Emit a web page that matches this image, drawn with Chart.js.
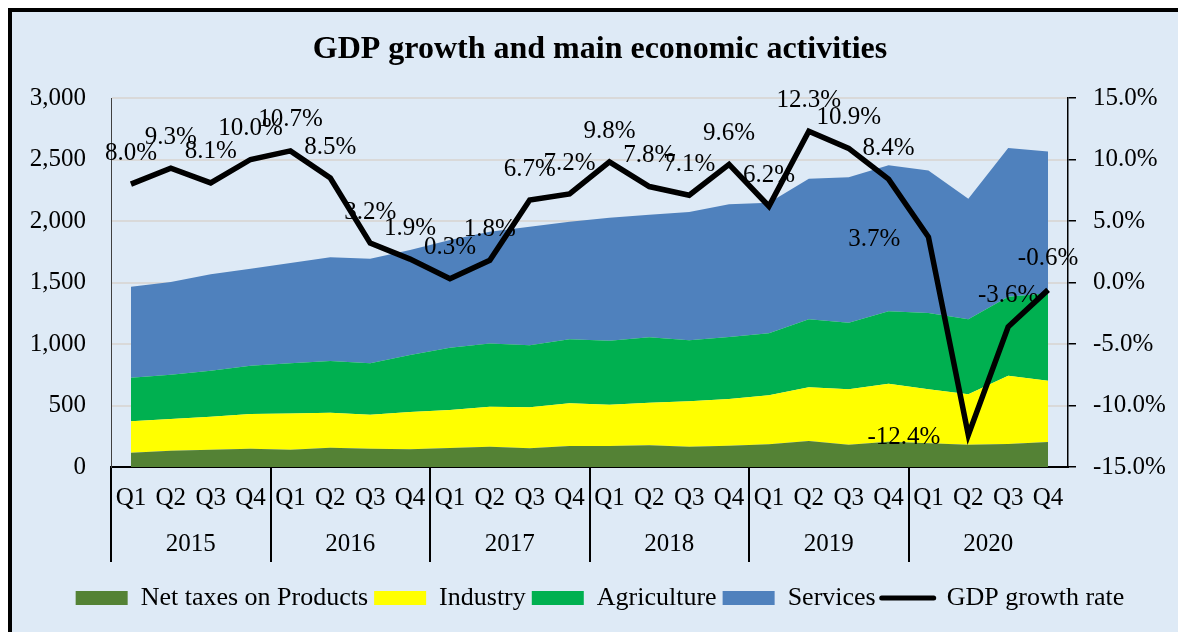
<!DOCTYPE html>
<html>
<head>
<meta charset="utf-8">
<script src="https://cdn.jsdelivr.net/npm/chart.js@4"></script>
<style>
html,body{margin:0;padding:0;background:#fff;overflow:hidden;}
#frame{position:absolute;left:8px;top:8px;width:1170px;height:624px;background:#DEEAF6;border-left:4px solid #000;border-top:4px solid #000;box-sizing:border-box;}
#c{position:absolute;left:0;top:0;}
</style>
</head>
<body>
<div id="frame"></div>
<canvas id="c" width="1178" height="632"></canvas>
<script>
const quarters = ['Q1','Q2','Q3','Q4','Q1','Q2','Q3','Q4','Q1','Q2','Q3','Q4','Q1','Q2','Q3','Q4','Q1','Q2','Q3','Q4','Q1','Q2','Q3','Q4'];
const years = ['2015','2016','2017','2018','2019','2020'];
const netTaxes    = [116,133,141,149,141,157,148,145,154,165,152,171,171,176,165,173,184,211,181,206,193,181,187,203];
const industry    = [256,257,268,282,293,284,277,302,309,325,333,347,336,347,369,380,399,437,451,471,439,410,555,499];
const agriculture = [354,360,374,393,409,421,418,464,507,515,504,520,520,531,496,504,504,553,541,589,620,610,643,710];
const services    = [740,754,784,788,816,843,851,853,875,908,965,956,1000,997,1043,1079,1062,1143,1182,1187,1158,980,1208,1154];
const gdpGrowth   = [8.0,9.3,8.1,10.0,10.7,8.5,3.2,1.9,0.3,1.8,6.7,7.2,9.8,7.8,7.1,9.6,6.2,12.3,10.9,8.4,3.7,-12.4,-3.6,-0.6];
const labelSide   = ['a','a','a','a','a','a','a','a','a','a','a','a','a','a','a','a','a','a','a','a','l','l','a','a'];

const FONT = '"Liberation Serif", "Times New Roman", serif';

const dataLabelPlugin = {
  id: 'gdpLabels',
  afterDatasetsDraw(chart) {
    const idx = chart.data.datasets.findIndex(d => d.yAxisID === 'y1');
    const meta = chart.getDatasetMeta(idx);
    const ctx = chart.ctx;
    ctx.save();
    ctx.font = '25px ' + FONT;
    ctx.fillStyle = '#000';
    ctx.textBaseline = 'middle';
    meta.data.forEach((pt, i) => {
      const v = gdpGrowth[i];
      const txt = v.toFixed(1) + '%';
      if (labelSide[i] === 'l') {
        ctx.textAlign = 'right';
        ctx.fillText(txt, pt.x - 28, pt.y + 2);
      } else {
        ctx.textAlign = 'center';
        ctx.fillText(txt, pt.x, pt.y - 31);
      }
    });
    ctx.restore();
  }
};

const areaDs = (label, data, color, fill) => ({
  type: 'line', label, data, backgroundColor: color, borderColor: color,
  borderWidth: 0, pointRadius: 0, fill, yAxisID: 'y', order: 1
});

new Chart(document.getElementById('c'), {
  type: 'line',
  data: {
    labels: quarters,
    datasets: [
      areaDs('Net taxes on Products', netTaxes, '#548235', 'origin'),
      areaDs('Industry', industry, '#FFFF00', '-1'),
      areaDs('Agriculture', agriculture, '#00B050', '-1'),
      areaDs('Services', services, '#4F81BD', '-1'),
      { type: 'line', label: 'GDP growth rate', data: gdpGrowth, yAxisID: 'y1',
        borderColor: '#000', backgroundColor: '#000', borderWidth: 5.5,
        pointRadius: 0, fill: false, order: 0, tension: 0 }
    ]
  },
  options: {
    responsive: false,
    animation: false,
    devicePixelRatio: 1,
    layout: { padding: { left: 22, right: 0, top: 0, bottom: 11 } },
    plugins: {
      tooltip: { enabled: false },
      title: {
        display: true,
        text: 'GDP growth and main economic activities',
        color: '#000',
        font: { family: FONT, size: 32, weight: 'bold' },
        padding: { top: 31, bottom: 28.6 }
      },
      legend: {
        position: 'bottom',
        labels: {
          color: '#000',
          font: { family: FONT, size: 26 },
          usePointStyle: true,
          pointStyleWidth: 52,
          boxHeight: 14,
          padding: 6,
          generateLabels(chart) {
            return chart.data.datasets.map((ds, i) => {
              const isLine = ds.yAxisID === 'y1';
              return {
                text: ds.label,
                fillStyle: isLine ? '#000' : ds.backgroundColor,
                strokeStyle: '#000',
                lineWidth: isLine ? 5 : 0,
                lineCap: 'round',
                pointStyle: isLine ? 'line' : 'rect',
                hidden: false,
                datasetIndex: i,
                fontColor: '#000'
              };
            });
          }
        }
      }
    },
    scales: {
      x: {
        type: 'category',
        position: 'bottom',
        offset: true,
        weight: 0,
        z: 1,
        grid: {
          offset: true,
          drawOnChartArea: false,
          drawTicks: true,
          tickLength: 95,
          lineWidth: 2,
          color: (c) => (c.index % 4 === 0 ? '#000' : 'rgba(0,0,0,0)')
        },
        border: { display: true, color: '#000', width: 2 },
        ticks: { color: '#000', font: { family: FONT, size: 25 }, padding: -79, maxRotation: 0, autoSkip: false },
        afterFit(s) { s.height = 56; }
      },
      x2: {
        type: 'category',
        position: 'bottom',
        labels: years,
        offset: true,
        weight: 1,
        grid: { display: false, drawTicks: false },
        border: { display: false },
        ticks: { color: '#000', font: { family: FONT, size: 25 }, padding: 6, maxRotation: 0, autoSkip: false },
        afterFit(s) { s.height = 56; }
      },
      y: {
        position: 'left',
        stacked: true,
        min: 0, max: 3000,
        ticks: { stepSize: 500, color: '#000', font: { family: FONT, size: 25 }, padding: 25,
          callback: (v) => v.toLocaleString('en-US') },
        grid: { color: '#D9D9D9', lineWidth: 2, drawTicks: false },
        border: { display: true, color: '#404040', width: 1 },
        afterFit(s) { s.width = 89; }
      },
      y1: {
        position: 'right',
        stacked: false,
        min: -15, max: 15,
        ticks: { stepSize: 5, color: '#000', font: { family: FONT, size: 25 }, padding: 17,
          callback: (v) => v.toFixed(1) + '%' },
        grid: { drawOnChartArea: false, drawTicks: true, tickLength: 8, color: '#000', lineWidth: 1.5 },
        border: { display: true, color: '#000', width: 1.5 },
        afterFit(s) { s.width = 110; }
      }
    }
  },
  plugins: [dataLabelPlugin]
});
</script>
</body>
</html>
